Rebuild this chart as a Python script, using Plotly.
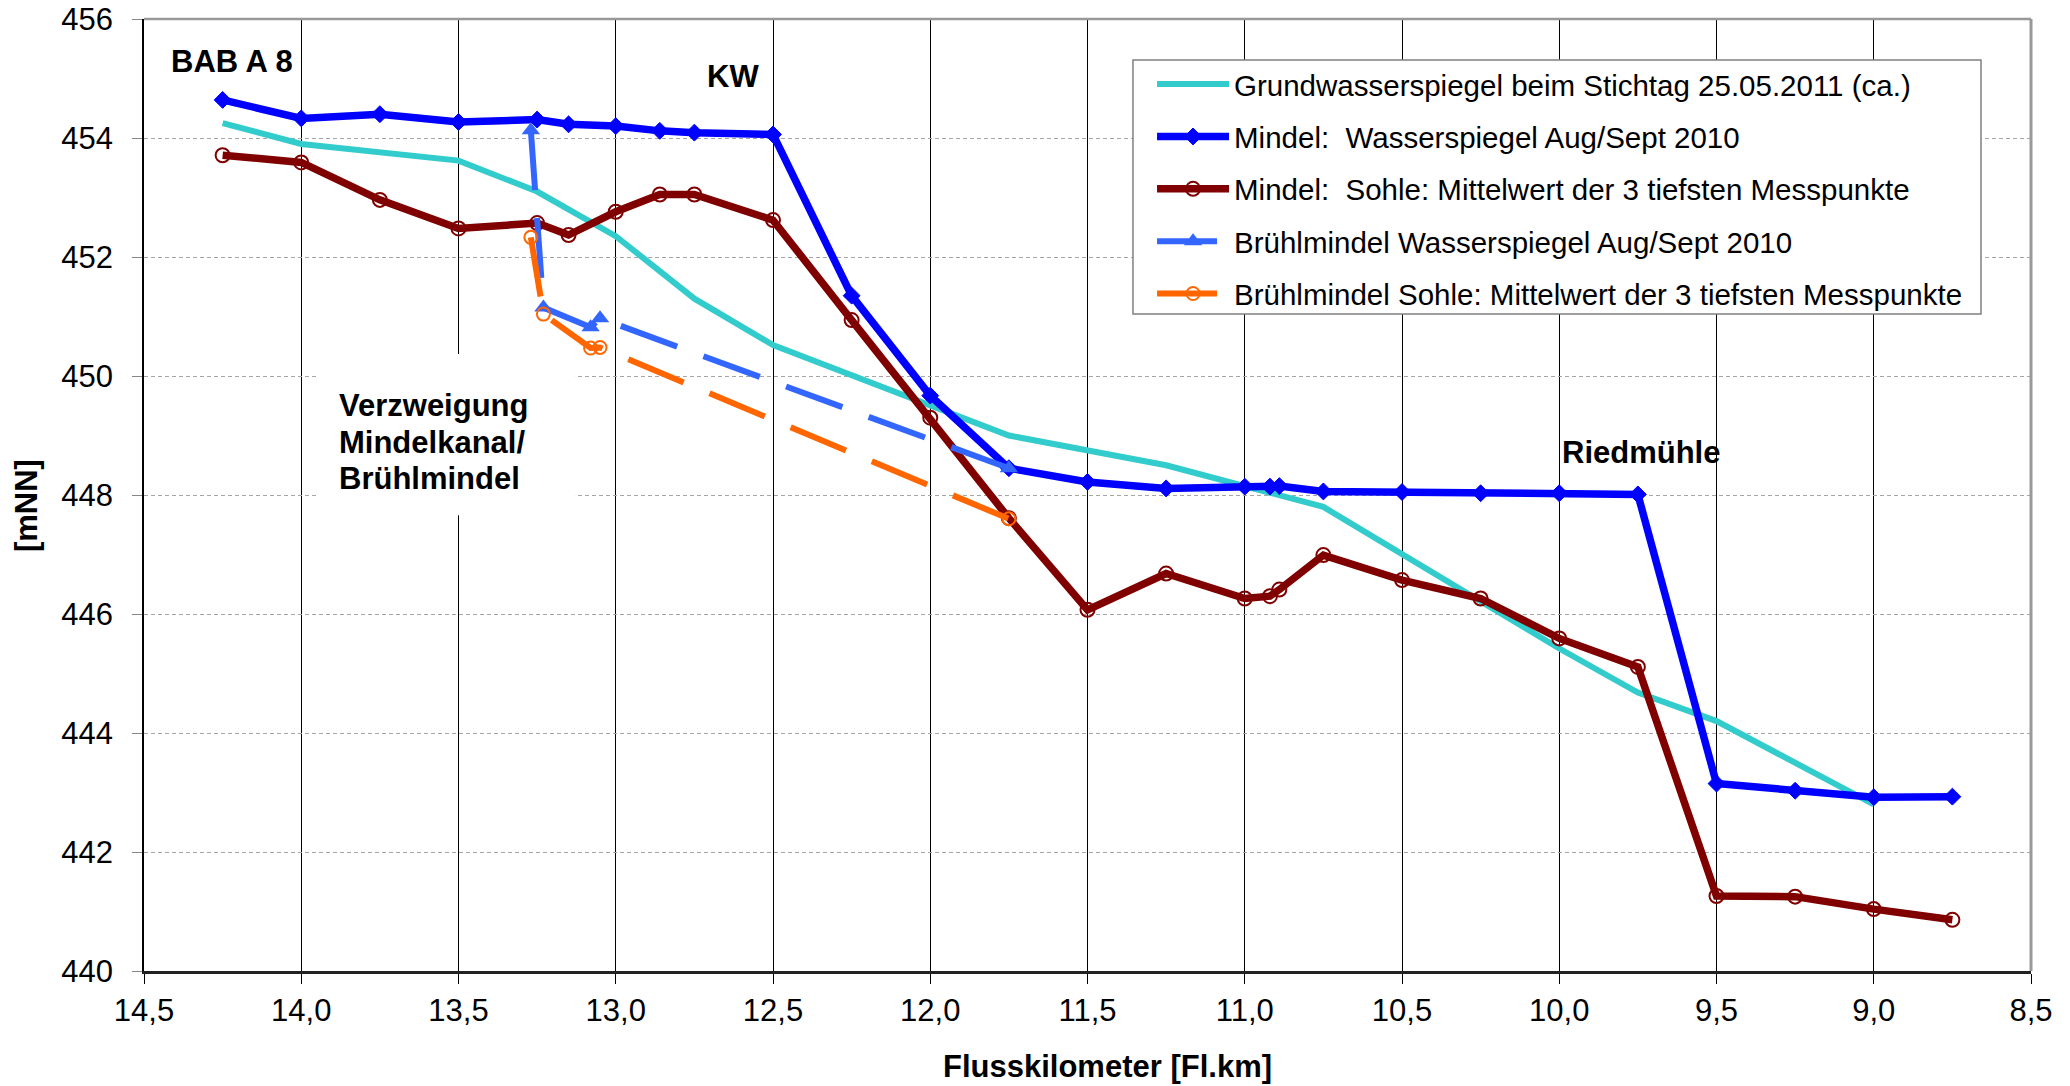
import plotly.graph_objects as go

# ---------------- data ----------------
km_gw = [14.25, 14.0, 13.5, 13.25, 13.0, 12.75, 12.5, 11.75, 11.25, 10.75, 10.0, 9.75, 9.5, 9.0]
gw_level = [454.25, 453.9, 453.62, 453.1, 452.35, 451.3, 450.52, 449.0, 448.5, 447.8, 445.42, 444.68, 444.2, 442.8]

km_mindel = [14.25, 14.0, 13.75, 13.5, 13.25, 13.15, 13.0, 12.86, 12.75, 12.5, 12.25, 12.0, 11.75,
             11.5, 11.25, 11.0, 10.92, 10.89, 10.75, 10.5, 10.25, 10.0, 9.75, 9.5, 9.25, 9.0, 8.75]
mindel_wsp = [454.64, 454.33, 454.4, 454.27, 454.31, 454.23, 454.2, 454.12, 454.09, 454.06, 451.35, 449.67, 448.45,
              448.22, 448.11, 448.14, 448.14, 448.15, 448.06, 448.05, 448.03, 448.03, 448.01, 443.15, 443.03, 442.92, 442.93]
mindel_sohle = [453.71, 453.59, 452.96, 452.48, 452.57, 452.37, 452.76, 453.05, 453.05, 452.62, 450.94, 449.3, 447.61,
                446.07, 446.68, 446.26, 446.3, 446.41, 446.99, 446.57, 446.26, 445.59, 445.11, 441.26, 441.25, 441.04, 440.86]

km_bruehl = [13.27, 13.23, 13.08, 13.05, 11.75]
bruehl_wsp = [454.13, 451.15, 450.82, 450.97, 448.45]
bruehl_sohle = [452.33, 451.04, 450.47, 450.48, 447.6]

x_ticks = [14.5, 14.0, 13.5, 13.0, 12.5, 12.0, 11.5, 11.0, 10.5, 10.0, 9.5, 9.0, 8.5]
x_ticktext = ["14,5", "14,0", "13,5", "13,0", "12,5", "12,0", "11,5", "11,0", "10,5", "10,0", "9,5", "9,0", "8,5"]
y_ticks = [440, 442, 444, 446, 448, 450, 452, 454, 456]

names = [
    "Grundwasserspiegel beim Stichtag 25.05.2011 (ca.)",
    "Mindel:  Wasserspiegel Aug/Sept 2010",
    "Mindel:  Sohle: Mittelwert der 3 tiefsten Messpunkte",
    "Brühlmindel Wasserspiegel Aug/Sept 2010",
    "Brühlmindel Sohle: Mittelwert der 3 tiefsten Messpunkte",
]

FONT = "Liberation Sans, Arial, sans-serif"
DASH = "60px,28px"

fig = go.Figure()

fig.add_trace(go.Scatter(
    x=km_gw, y=gw_level, mode="lines", name=names[0], legendgroup="g1",
    line=dict(color="#33CCCC", width=6),
))
fig.add_trace(go.Scatter(
    x=km_mindel, y=mindel_wsp, mode="lines+markers", name=names[1], legendgroup="g2",
    line=dict(color="#0000FF", width=7.5),
    marker=dict(symbol="diamond", size=13, color="#0000FF", line=dict(width=1, color="#0000FF")),
))
fig.add_trace(go.Scatter(
    x=km_mindel, y=mindel_sohle, mode="lines+markers", name=names[2], legendgroup="g3",
    line=dict(color="#800000", width=7.5),
    marker=dict(symbol="circle-open", size=14, color="#800000", line=dict(width=2, color="#800000")),
))
fig.add_trace(go.Scatter(
    x=km_bruehl, y=bruehl_wsp, mode="lines+markers", name=names[3], legendgroup="g4",
    line=dict(color="#3366FF", width=6, dash=DASH),
    marker=dict(symbol="triangle-up", size=16, color="#3366FF", line=dict(width=0)),
))
fig.add_trace(go.Scatter(
    x=km_bruehl, y=bruehl_sohle, mode="lines+markers", name=names[4], legendgroup="g5",
    line=dict(color="#FF6600", width=6, dash=DASH),
    marker=dict(symbol="circle-open", size=13, color="#FF6600", line=dict(width=2, color="#FF6600")),
))

# white box behind the "Verzweigung" label (covers gridlines)
fig.add_shape(type="rect", xref="x", yref="y", x0=13.95, x1=13.13, y0=447.66, y1=450.37,
              fillcolor="white", line=dict(width=0), layer="between")
# top and right borders
fig.add_shape(type="line", xref="paper", yref="paper", x0=0, x1=1, y0=1, y1=1,
              line=dict(color="#999999", width=2.5), layer="above")
fig.add_shape(type="line", xref="paper", yref="paper", x0=1, x1=1, y0=0, y1=1,
              line=dict(color="#999999", width=3), layer="above")
# legend frame
fig.add_shape(type="rect", xref="paper", yref="paper", x0=0.5241, x1=0.9735, y0=0.6901, y1=0.9569,
              fillcolor="white", line=dict(color="#808080", width=1.5), layer="above")

ann_font = dict(family=FONT, size=31, color="black", weight="bold")
annots = [
    dict(x=14.22, y=455.28, text="BAB A 8", xanchor="center", yanchor="middle"),
    dict(x=12.627, y=455.03, text="KW", xanchor="center", yanchor="middle"),
    dict(x=9.739, y=448.72, text="Riedmühle", xanchor="center", yanchor="middle"),
    dict(x=13.886, y=449.51, text="Verzweigung", xanchor="left", yanchor="middle"),
    dict(x=13.886, y=448.89, text="Mindelkanal/", xanchor="left", yanchor="middle"),
    dict(x=13.886, y=448.28, text="Brühlmindel", xanchor="left", yanchor="middle"),
]
for a in annots:
    fig.add_annotation(xref="x", yref="y", showarrow=False, font=ann_font, **a)

fig.add_annotation(xref="paper", yref="paper", x=0.5105, y=-0.1008, text="Flusskilometer [Fl.km]",
                   showarrow=False, xanchor="center", yanchor="middle", font=ann_font)
fig.add_annotation(xref="paper", yref="paper", x=-0.0625, y=0.4884, text="[mNN]", textangle=-90,
                   showarrow=False, xanchor="center", yanchor="middle", font=ann_font)

fig.update_xaxes(
    range=[14.5, 8.5], tickvals=x_ticks, ticktext=x_ticktext,
    showgrid=True, gridcolor="black", gridwidth=1,
    ticks="outside", ticklen=10, tickcolor="black", tickwidth=1.2,
    showline=True, linecolor="#222222", linewidth=2.5,
    zeroline=False, tickfont=dict(family=FONT, size=31, color="black"),
    ticklabelstandoff=0, automargin=False, ticklabeloverflow="allow",
)
fig.update_yaxes(
    range=[440, 456], tickvals=y_ticks,
    showgrid=True, gridcolor="#A6A6A6", gridwidth=1, griddash="4px,3px",
    ticks="outside", ticklen=10, tickcolor="#888888", tickwidth=1.2,
    showline=True, linecolor="black", linewidth=1.5,
    zeroline=False, tickfont=dict(family=FONT, size=31, color="black"),
    ticklabelstandoff=13, automargin=False, ticklabeloverflow="allow",
)

fig.update_layout(
    width=2070, height=1086,
    margin=dict(l=144, r=39, t=19, b=115, autoexpand=False),
    paper_bgcolor="white", plot_bgcolor="white",
    font=dict(family=FONT, color="black"),
    legend=dict(
        x=0.5342, y=0.9586, xanchor="left", yanchor="top",
        bgcolor="rgba(0,0,0,0)", borderwidth=0,
        font=dict(family=FONT, size=29.5, color="black"),
        traceorder="grouped", tracegroupgap=11, itemwidth=72,
    ),
)

# remove the default 8px page margin so the figure fills the window exactly; hide the modebar
fig.write_html("out.html", config={"displayModeBar": False},
               post_script="document.body.style.margin='0px';")
